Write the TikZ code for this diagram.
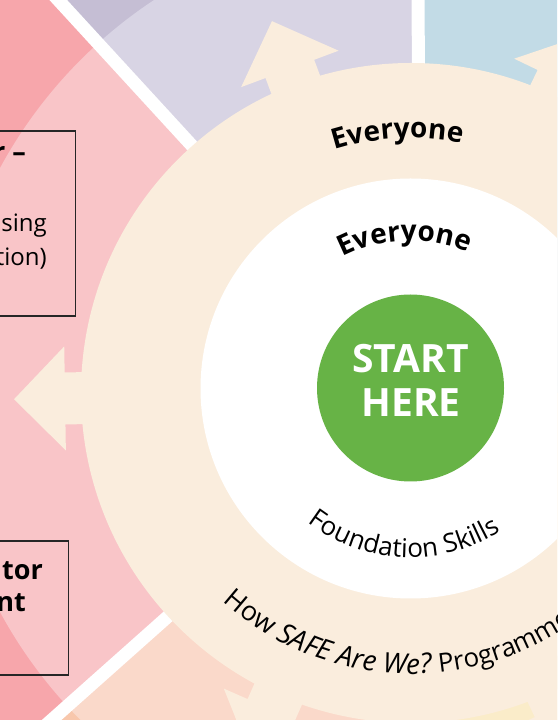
\documentclass[tikz,border=0pt]{standalone}
\usepackage{fontspec}
\setmainfont{Open Sans}
\usetikzlibrary{decorations.text}
\definecolor{pinkL}{HTML}{F9C5C8}
\definecolor{pinkD}{HTML}{F7A6AB}
\definecolor{lavL}{HTML}{D8D4E4}
\definecolor{lavD}{HTML}{C5BED4}
\definecolor{blueL}{HTML}{C2DBE6}
\definecolor{beige}{HTML}{FAEDDD}
\definecolor{peachL}{HTML}{FAD9CA}
\definecolor{peachD}{HTML}{F8C7AC}
\definecolor{yellowL}{HTML}{FAECC9}
\definecolor{startgreen}{HTML}{67B346}
\tikzset{
  gapline/.style={white, line width=13pt},
  ringarrow/.style={fill=beige},
  boxline/.style={draw=black!85, line width=1.2pt},
  boxtext/.style={anchor=base east, inner sep=0pt, font=\fontsize{24}{24}\selectfont},
  boxtitle/.style={anchor=base east, inner sep=0pt, font=\fontsize{27}{27}\selectfont\bfseries},
  starttxt/.style={anchor=base, inner sep=0pt, text=white, font=\fontsize{39}{39}\selectfont\bfseries},
}
\begin{document}
\begin{tikzpicture}[x=1pt,y=1pt]
\useasboundingbox (0,0) rectangle (557,720);
\clip (0,0) rectangle (557,720);
\coordinate (O) at (419,327);
\coordinate (RC) at (411,327);
\coordinate (WC) at (410.5,331.5);
\coordinate (BC) at (411,330);
% sectors
\begin{scope}
  \clip (O) -- (418,800) -- (-21.6,807) -- cycle;
  \fill[lavD] (-10,-10) rectangle (700,820);
  \fill[lavL] (BC) circle[radius=467];
\end{scope}
\begin{scope}
  \clip (O) -- (-21.6,807) -- (-60,807) -- (-60,-60) -- (-15.8,-60) -- cycle;
  \fill[pinkD] (-100,-100) rectangle (700,820);
  \fill[pinkL] (BC) circle[radius=467];
\end{scope}
\begin{scope}
  \clip (O) -- (-15.8,-60) -- (424.5,-60) -- cycle;
  \fill[peachD] (-100,-100) rectangle (700,820);
  \fill[peachL] (BC) circle[radius=467];
\end{scope}
\begin{scope}
  \clip (O) -- (424.5,-60) -- (700,-60) -- (700,327) -- cycle;
  \fill[yellowL] (-100,-100) rectangle (700,820);
\end{scope}
\begin{scope}
  \clip (O) -- (700,327) -- (700,800) -- (418,800) -- cycle;
  \fill[blueL] (-100,-100) rectangle (700,820);
\end{scope}
% gaps
\draw[gapline] (O) -- (418,800);
\draw[gapline] (O) -- (-21.6,807);
\draw[gapline] (O) -- (-15.8,-60);
\draw[gapline] (O) -- (424.5,-60);
\draw[gapline] (O) -- (700,327);
% ring and arrows
\fill[beige] (RC) circle[radius=330];
\foreach \a in {64.3,110.5,180.9,246.2,295.2}{
  \fill[ringarrow, shift={(RC)}, rotate=\a] (300,-26) -- (346,-26) -- (346,-52) -- (397,0) -- (346,52) -- (346,26) -- (300,26) -- cycle;
}
% inner circles
\fill[white] (WC) circle[radius=210];
\node[circle, fill=startgreen, minimum size=187pt, inner sep=0pt] (start) at (410.5,332) {};
\node[starttxt] (startA) at (410.5,347) {START};
\node[starttxt] (startB) at (411,303) {HERE};
% curved texts
\path[shift={(RC)}, decorate, decoration={text along path, text align=center,
  text={|\fontsize{28}{28}\selectfont\bfseries|Everyone}}]
  (133:255) arc[start angle=133, end angle=53, radius=255];
\path[shift={(WC)}, decorate, decoration={text along path, text align=center,
  text={|\fontsize{28}{28}\selectfont\bfseries|Everyone}}]
  (132.3:148) arc[start angle=132.3, end angle=52.3, radius=148];
\path[shift={(WC)}, decorate, decoration={text along path, text align=center,
  text={|\fontsize{26}{26}\selectfont|Foundation Skills}}]
  (217.5:169) arc[start angle=217.5, end angle=317.5, radius=169];
\path[shift={(RC)}, decorate, decoration={text along path, text align=left,
  text={|\fontsize{27}{27}\selectfont|How |\fontsize{28}{28}\selectfont\itshape|SAFE Are We? |\fontsize{26}{26}\selectfont\upshape|Programme}}]
  (228:281) arc[start angle=228, end angle=330, radius=281];
% boxes
\draw[boxline] (-5,404) rectangle (75.5,589);
\node[boxtitle] (b1a) at (26,558) {r –};
\node[boxtext] (b1b) at (47,488) {sing};
\node[boxtext] (b1c) at (47,454) {tion)};
\draw[boxline] (-5,45) rectangle (68.5,179);
\node[boxtitle] (b2a) at (43,140) {tor};
\node[boxtitle] (b2b) at (26,108) {nt};
\end{tikzpicture}
\end{document}
